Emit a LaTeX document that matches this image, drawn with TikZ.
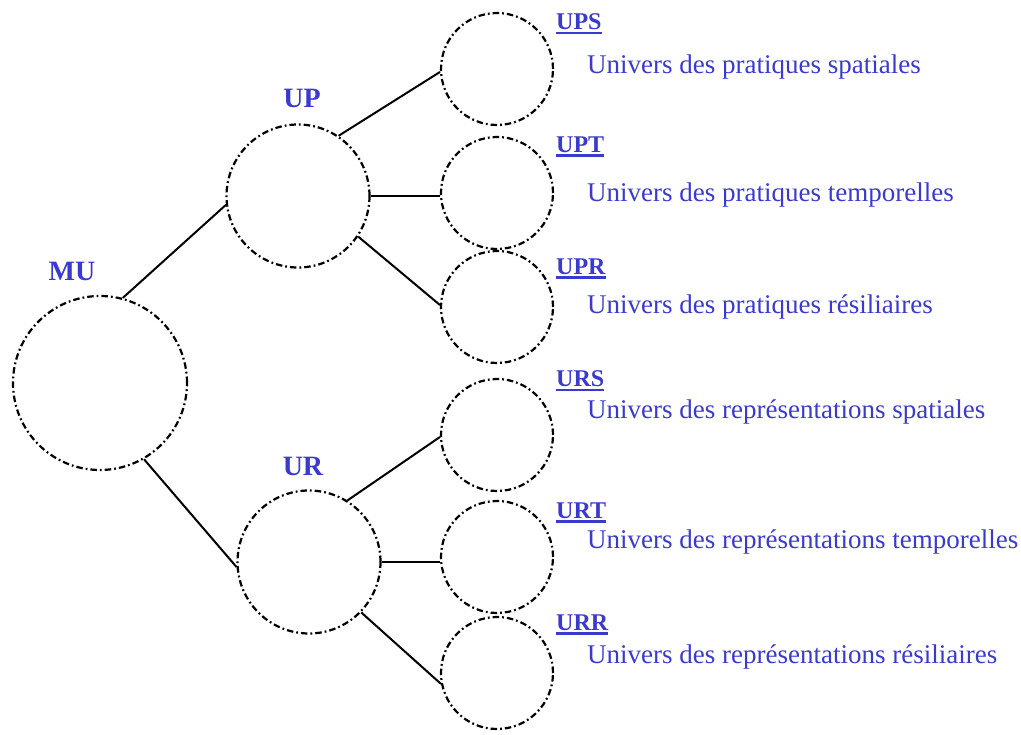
\documentclass[tikz,border=0pt]{standalone}
\usepackage{fontspec}
\setmainfont{Liberation Serif}
\definecolor{lblue}{RGB}{58,58,206}
\begin{document}
\begin{tikzpicture}[x=1pt,y=-1pt,
  univ/.style={circle,draw,line width=2.2pt,dash pattern=on 6.5pt off 3pt on 1.8pt off 3pt,inner sep=0pt},
  big/.style={univ,minimum size=174pt},
  mid/.style={univ,minimum size=143pt},
  small/.style={univ,minimum size=112pt},
  conn/.style={line width=2pt},
  title/.style={text=lblue,font=\fontsize{28}{30}\selectfont\bfseries,inner sep=0pt},
  lab/.style={text=lblue,font=\fontsize{24}{26}\selectfont\bfseries,inner sep=0pt,anchor=west},
  desc/.style={text=lblue,font=\fontsize{27}{29}\selectfont,inner sep=0pt,anchor=west},
  ul/.style={lblue,line width=2.4pt}]
\useasboundingbox (0,0) rectangle (1021,735);
\node[big] (MU) at (100,383) {};
\node[mid] (UP) at (298,196) {};
\node[mid] (UR) at (309,562) {};
\node[small] (UPS) at (497,69) {};
\node[small] (UPT) at (497,193) {};
\node[small] (UPR) at (497,307) {};
\node[small] (URS) at (497,435) {};
\node[small] (URT) at (497,557) {};
\node[small] (URR) at (497,673) {};
\node[title] (tMU) at (72,271) {MU};
\node[title] (tUP) at (302,98) {UP};
\node[title] (tUR) at (303,466) {UR};
\draw[conn] (MU.75) -- (UP.187);
\draw[conn] (MU.-60) -- (UR.184);
\draw[conn] (UP.56) -- (UPS.183);
\draw[conn] (UP.east) -- (UPT.west |- UP.east);
\draw[conn] (UP.-34) -- (UPR.178);
\draw[conn] (UR.58) -- (URS.182);
\draw[conn] (UR.east) -- (URT.west |- UR.east);
\draw[conn] (UR.-44) -- (URR.191);
\foreach \n/\y/\t/\yy in {UPS/22/{Univers des pratiques spatiales}/67,
  UPT/145/{Univers des pratiques temporelles}/195,
  UPR/267/{Univers des pratiques résiliaires}/307,
  URS/379/{Univers des représentations spatiales}/412,
  URT/511/{Univers des représentations temporelles}/542,
  URR/623/{Univers des représentations résiliaires}/657}{
  \node[lab] (l\n) at (556,\y) {\n};
  \draw[ul] ([yshift=-2.5pt]l\n.south west) -- ([yshift=-2.5pt]l\n.south east);
  \node[desc] (d\n) at (587,\yy) {\t};
}
\end{tikzpicture}
\end{document}
